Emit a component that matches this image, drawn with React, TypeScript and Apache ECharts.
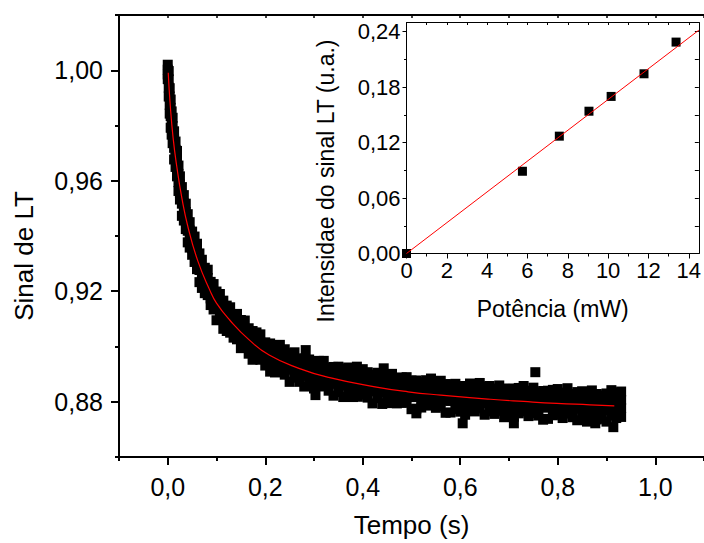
import React, { useEffect, useRef } from 'react';
import * as echarts from 'echarts';

// ---- Main chart: LT signal vs time (four readings per time column) ----
const tempo = [0.000, 0.002, 0.004, 0.006, 0.008, 0.010, 0.013, 0.016, 0.019, 0.022, 0.025, 0.029, 0.033, 0.037, 0.041, 0.045, 0.050, 0.055, 0.060, 0.065, 0.070, 0.076, 0.082, 0.088, 0.094, 0.100, 0.107, 0.114, 0.121, 0.128, 0.135, 0.142, 0.150, 0.158, 0.166, 0.174, 0.182, 0.190, 0.200,
  0.21, 0.22, 0.23, 0.24, 0.25, 0.26, 0.27, 0.28, 0.29, 0.30, 0.31, 0.32, 0.33, 0.34, 0.35, 0.36, 0.37, 0.38, 0.39, 0.40, 0.41, 0.42, 0.43, 0.44, 0.45, 0.46, 0.47, 0.48, 0.49, 0.50, 0.51, 0.52, 0.53, 0.54, 0.55, 0.56, 0.57, 0.58, 0.59, 0.60, 0.61, 0.62, 0.63, 0.64, 0.65, 0.66, 0.67, 0.68, 0.69, 0.70, 0.71, 0.72, 0.73, 0.74, 0.75, 0.76, 0.77, 0.78, 0.79, 0.80, 0.81, 0.82, 0.83, 0.84, 0.85, 0.86, 0.87, 0.88, 0.89, 0.90, 0.91, 0.92, 0.93];
const sinalA = [1.0020, 0.9997, 0.9935, 0.9894, 0.9851, 0.9828, 0.9779, 0.9742, 0.9708, 0.9655, 0.9616, 0.9577, 0.9548, 0.9517, 0.9479, 0.9450, 0.9416, 0.9398, 0.9372, 0.9337, 0.9314, 0.9285, 0.9278, 0.9234, 0.9226, 0.9199, 0.9190, 0.9166, 0.9148, 0.9142, 0.9116, 0.9118, 0.9096, 0.9094, 0.9066, 0.9056, 0.9051, 0.9044, 0.9015,
  0.9011, 0.8998, 0.9006, 0.8990, 0.8976, 0.8979, 0.8956, 0.8957, 0.8953, 0.8940, 0.8948, 0.8948, 0.8924, 0.8926, 0.8927, 0.8919, 0.8924, 0.8909, 0.8902, 0.8918, 0.8907, 0.8898, 0.8905, 0.8894, 0.8887, 0.8901, 0.8878, 0.8888, 0.8889, 0.8877, 0.8877, 0.8871, 0.8878, 0.8884, 0.8862, 0.8876, 0.8864, 0.8863, 0.8865, 0.8856, 0.8857, 0.8866, 0.8849, 0.8868, 0.8855, 0.8857, 0.8848, 0.8859, 0.8848, 0.8841, 0.8848, 0.8850, 0.8857, 0.8840, 0.8851, 0.8834, 0.8839, 0.8840, 0.8843, 0.8846, 0.8833, 0.8849, 0.8828, 0.8835, 0.8838, 0.8832, 0.8841, 0.8828, 0.8823, 0.8830, 0.8842, 0.8833, 0.8837];
const sinalB = [1.0002, 0.9967, 0.9905, 0.9864, 0.9821, 0.9798, 0.9749, 0.9712, 0.9678, 0.9625, 0.9586, 0.9547, 0.9518, 0.9487, 0.9449, 0.9420, 0.9386, 0.9368, 0.9342, 0.9307, 0.9284, 0.9255, 0.9248, 0.9204, 0.9196, 0.9169, 0.9160, 0.9136, 0.9118, 0.9112, 0.9086, 0.9088, 0.9066, 0.9064, 0.9036, 0.9026, 0.9021, 0.9014, 0.8985,
  0.8981, 0.8968, 0.8976, 0.8960, 0.8946, 0.8949, 0.8926, 0.8927, 0.8923, 0.8910, 0.8918, 0.8918, 0.8894, 0.8896, 0.8897, 0.8889, 0.8894, 0.8879, 0.8872, 0.8888, 0.8877, 0.8868, 0.8875, 0.8864, 0.8857, 0.8871, 0.8848, 0.8858, 0.8859, 0.8847, 0.8847, 0.8841, 0.8848, 0.8854, 0.8832, 0.8846, 0.8834, 0.8833, 0.8835, 0.8826, 0.8827, 0.8836, 0.8819, 0.8838, 0.8825, 0.8827, 0.8818, 0.8829, 0.8818, 0.8811, 0.8818, 0.8820, 0.8827, 0.8810, 0.8821, 0.8804, 0.8809, 0.8810, 0.8813, 0.8816, 0.8803, 0.8819, 0.8798, 0.8805, 0.8808, 0.8802, 0.8811, 0.8798, 0.8793, 0.8800, 0.8812, 0.8803, 0.8807];
const sinalC = [0.9985, 0.9937, 0.9875, 0.9834, 0.9791, 0.9768, 0.9719, 0.9682, 0.9648, 0.9595, 0.9556, 0.9517, 0.9488, 0.9457, 0.9419, 0.9390, 0.9356, 0.9338, 0.9312, 0.9277, 0.9254, 0.9225, 0.9218, 0.9174, 0.9166, 0.9139, 0.9130, 0.9106, 0.9088, 0.9082, 0.9056, 0.9058, 0.9036, 0.9034, 0.9006, 0.8996, 0.8991, 0.8984, 0.8955,
  0.8951, 0.8938, 0.8946, 0.8930, 0.8916, 0.8919, 0.8896, 0.8897, 0.8893, 0.8880, 0.8888, 0.8888, 0.8864, 0.8866, 0.8867, 0.8859, 0.8864, 0.8849, 0.8842, 0.8858, 0.8847, 0.8838, 0.8845, 0.8834, 0.8827, 0.8841, 0.8818, 0.8828, 0.8829, 0.8817, 0.8817, 0.8811, 0.8818, 0.8824, 0.8802, 0.8816, 0.8804, 0.8803, 0.8805, 0.8796, 0.8797, 0.8806, 0.8789, 0.8808, 0.8795, 0.8797, 0.8788, 0.8799, 0.8788, 0.8781, 0.8788, 0.8790, 0.8797, 0.8780, 0.8791, 0.8774, 0.8779, 0.8780, 0.8783, 0.8786, 0.8773, 0.8789, 0.8768, 0.8775, 0.8778, 0.8772, 0.8781, 0.8768, 0.8763, 0.8770, 0.8782, 0.8773, 0.8777];
const sinalD = [0.9968, 0.9905, 0.9843, 0.9792, 0.9767, 0.9736, 0.9677, 0.9650, 0.9616, 0.9563, 0.9532, 0.9473, 0.9456, 0.9425, 0.9377, 0.9358, 0.9332, 0.9306, 0.9280, 0.9233, 0.9212, 0.9193, 0.9186, 0.9150, 0.9134, 0.9095, 0.9098, 0.9064, 0.9056, 0.9050, 0.9032, 0.9026, 0.8994, 0.9002, 0.8974, 0.8952, 0.8959, 0.8952, 0.8931,
  0.8909, 0.8906, 0.8914, 0.8898, 0.8872, 0.8887, 0.8872, 0.8855, 0.8861, 0.8848, 0.8856, 0.8856, 0.8840, 0.8822, 0.8835, 0.8817, 0.8832, 0.8817, 0.8818, 0.8826, 0.8815, 0.8794, 0.8813, 0.8792, 0.8795, 0.8809, 0.8794, 0.8796, 0.8797, 0.8773, 0.8775, 0.8779, 0.8786, 0.8792, 0.8778, 0.8784, 0.8760, 0.8761, 0.8773, 0.8764, 0.8753, 0.8774, 0.8765, 0.8776, 0.8753, 0.8765, 0.8756, 0.8767, 0.8744, 0.8757, 0.8746, 0.8758, 0.8765, 0.8748, 0.8759, 0.8750, 0.8735, 0.8738, 0.8751, 0.8754, 0.8741, 0.8757, 0.8744, 0.8733, 0.8746, 0.8728, 0.8749, 0.8736, 0.8739, 0.8728, 0.8750, 0.8741, 0.8745];
const foraTempo = [0.283, 0.303, 0.388, 0.443, 0.510, 0.605, 0.710, 0.754, 0.877, 0.914];
const foraSinal = [0.8987, 0.8824, 0.8927, 0.8921, 0.8758, 0.8722, 0.8722, 0.8907, 0.8722, 0.8708];

// fitted curve (red)
const ajusteTempo = [0.001, 0.005, 0.011, 0.018, 0.029, 0.042, 0.062, 0.086, 0.100, 0.127, 0.167, 0.208, 0.269, 0.330, 0.425, 0.493, 0.560, 0.662, 0.730, 0.798, 0.866, 0.916];
const ajusteSinal = [0.9991, 0.9876, 0.9755, 0.9658, 0.9537, 0.9429, 0.9308, 0.9205, 0.9157, 0.9096, 0.9024, 0.8969, 0.8921, 0.8888, 0.8854, 0.8836, 0.8824, 0.8809, 0.8801, 0.8794, 0.8789, 0.8785];

// ---- Inset: intensity vs power ----
const potencia = [0, 5.75, 7.58, 9.05, 10.15, 11.78, 13.37];
const intensidade = [0.0, 0.089, 0.127, 0.154, 0.170, 0.1945, 0.2288];
const retaPotencia = [0, 14.5];
const retaIntensidade = [0, 0.2417];

// ---- Ticks ----
const xMaior = [0, 0.2, 0.4, 0.6, 0.8, 1.0];
const xMenor = [-0.1, 0.1, 0.3, 0.5, 0.7, 0.9, 1.1];
const xTopo = [-0.1, 0, 0.1, 0.2, 0.3, 0.4, 0.5, 0.6, 0.7, 0.8, 0.9, 1.0, 1.1];
const yMaior = [0.88, 0.92, 0.96, 1.00];
const yMenor = [0.86, 0.90, 0.94, 0.98, 1.02];
const insetXMaior = [0, 2, 4, 6, 8, 10, 12, 14];
const insetXMenor = [1, 3, 5, 7, 9, 11, 13];
const insetXTopo = [1, 2, 3, 4, 5, 6, 7, 8, 9, 10, 11, 12, 13, 14];
const insetYMaior = [0, 0.06, 0.12, 0.18, 0.24];
const insetYMenor = [0.03, 0.09, 0.15, 0.21];
const insetYDireita = [0.03, 0.06, 0.09, 0.12, 0.15, 0.18, 0.21, 0.24];

const FONT = "'Liberation Sans', Arial, Helvetica, sans-serif";

export default function App() {
  const ref = useRef<HTMLDivElement>(null);
  useEffect(() => {
    if (!ref.current) return;
    const chart = echarts.init(ref.current, null, { renderer: 'svg' });
    const pontos: number[][] = [];
    tempo.forEach((t, i) => {
      pontos.push([t, sinalA[i]], [t, sinalB[i]], [t, sinalC[i]], [t, sinalD[i]]);
    });
    foraTempo.forEach((t, i) => pontos.push([t, foraSinal[i]]));
    const ajuste = ajusteTempo.map((t, i) => [t, ajusteSinal[i]]);
    const inset = potencia.map((p, i) => [p, intensidade[i]]);
    const reta = retaPotencia.map((p, i) => [p, retaIntensidade[i]]);

    const black = '#000';
    const mainLine = { show: true, onZero: false, lineStyle: { color: black, width: 2 } };
    const insetLine = { show: true, onZero: false, lineStyle: { color: black, width: 1 } };
    const hiddenLine = { show: false, onZero: false };
    const noLabel = { show: false };
    const noSplit = { show: false };
    const comma = (d: number) => (v: number) => v.toFixed(d).replace('.', ',');

    chart.setOption({
      animation: false,
      backgroundColor: '#fff',
      grid: [
        { left: 119, top: 15, right: -5, bottom: 86 },
        { left: 406.5, top: 22.5, right: 1.5, bottom: 289.5, show: true, backgroundColor: '#fff', borderWidth: 0 },
      ],
      xAxis: [
        {
          gridIndex: 0, type: 'value', position: 'bottom', min: -0.1, max: 1.1,
          axisLine: mainLine,
          axisTick: { show: true, customValues: xMaior, length: 8, lineStyle: { color: black, width: 2 } },
          axisLabel: { customValues: xMaior, formatter: comma(1), fontSize: 25, fontFamily: FONT, color: black, margin: 17 },
          splitLine: noSplit,
          name: 'Tempo (s)', nameLocation: 'middle', nameGap: 55,
          nameTextStyle: { fontSize: 26, fontFamily: FONT, color: black },
        },
        {
          gridIndex: 0, type: 'value', position: 'bottom', min: -0.1, max: 1.1,
          axisLine: hiddenLine,
          axisTick: { show: true, customValues: xMenor, length: 4, lineStyle: { color: black, width: 2 } },
          axisLabel: noLabel, splitLine: noSplit,
        },
        {
          gridIndex: 0, type: 'value', position: 'top', min: -0.1, max: 1.1,
          axisLine: mainLine,
          axisTick: { show: true, inside: true, customValues: xTopo, length: 3, lineStyle: { color: black, width: 1.5 } },
          axisLabel: noLabel, splitLine: noSplit,
        },
        {
          gridIndex: 1, type: 'value', position: 'bottom', min: 0, max: 14.5,
          axisLine: insetLine,
          axisTick: { show: true, customValues: insetXMaior, length: 5, lineStyle: { color: black, width: 1 } },
          axisLabel: { customValues: insetXMaior, formatter: (v: number) => String(v), fontSize: 22, fontFamily: FONT, color: black, margin: 6 },
          splitLine: noSplit,
          name: 'Potência (mW)', nameLocation: 'middle', nameGap: 44,
          nameTextStyle: { fontSize: 23, fontFamily: FONT, color: black },
        },
        {
          gridIndex: 1, type: 'value', position: 'bottom', min: 0, max: 14.5,
          axisLine: hiddenLine,
          axisTick: { show: true, customValues: insetXMenor, length: 3, lineStyle: { color: black, width: 1 } },
          axisLabel: noLabel, splitLine: noSplit,
        },
        {
          gridIndex: 1, type: 'value', position: 'top', min: 0, max: 14.5,
          axisLine: insetLine,
          axisTick: { show: true, inside: true, customValues: insetXTopo, length: 2.5, lineStyle: { color: black, width: 1 } },
          axisLabel: noLabel, splitLine: noSplit,
        },
      ],
      yAxis: [
        {
          gridIndex: 0, type: 'value', position: 'left', min: 0.86, max: 1.02,
          axisLine: mainLine,
          axisTick: { show: true, customValues: yMaior, length: 8, lineStyle: { color: black, width: 2 } },
          axisLabel: { customValues: yMaior, formatter: comma(2), fontSize: 25, fontFamily: FONT, color: black, margin: 16 },
          splitLine: noSplit,
        },
        {
          gridIndex: 0, type: 'value', position: 'left', min: 0.86, max: 1.02,
          axisLine: hiddenLine,
          axisTick: { show: true, customValues: yMenor, length: 4, lineStyle: { color: black, width: 2 } },
          axisLabel: noLabel, splitLine: noSplit,
        },
        {
          gridIndex: 1, type: 'value', position: 'left', min: 0, max: 0.25,
          axisLine: insetLine,
          axisTick: { show: true, customValues: insetYMaior, length: 4, lineStyle: { color: black, width: 1 } },
          axisLabel: { customValues: insetYMaior, formatter: comma(2), fontSize: 22, fontFamily: FONT, color: black, margin: 6 },
          splitLine: noSplit,
        },
        {
          gridIndex: 1, type: 'value', position: 'left', min: 0, max: 0.25,
          axisLine: hiddenLine,
          axisTick: { show: true, customValues: insetYMenor, length: 2.5, lineStyle: { color: black, width: 1 } },
          axisLabel: noLabel, splitLine: noSplit,
        },
        {
          gridIndex: 1, type: 'value', position: 'right', min: 0, max: 0.25,
          axisLine: insetLine,
          axisTick: { show: true, inside: true, customValues: insetYDireita, length: 4, lineStyle: { color: black, width: 1 } },
          axisLabel: noLabel, splitLine: noSplit,
        },
      ],
      graphic: [
        {
          type: 'text', x: 24, y: 256, rotation: Math.PI / 2, z: 10,
          style: { text: 'Sinal de LT', fontSize: 26, fontFamily: FONT, fill: black, align: 'center', verticalAlign: 'middle', textAlign: 'center', textVerticalAlign: 'middle' },
        },
        {
          type: 'text', x: 326, y: 181, rotation: Math.PI / 2, z: 10,
          style: { text: 'Intensidae do sinal LT (u.a.)', fontSize: 23, fontFamily: FONT, fill: black, align: 'center', verticalAlign: 'middle', textAlign: 'center', textVerticalAlign: 'middle' },
        },
      ],
      series: [
        {
          type: 'scatter', xAxisIndex: 0, yAxisIndex: 0, symbol: 'rect', symbolSize: 10,
          itemStyle: { color: black, opacity: 1, borderWidth: 0 }, data: pontos, z: 2,
        },
        {
          type: 'line', xAxisIndex: 0, yAxisIndex: 0, smooth: true, showSymbol: false, symbol: 'none',
          lineStyle: { color: '#ff0000', width: 1.2 }, data: ajuste, z: 3,
        },
        {
          type: 'scatter', xAxisIndex: 3, yAxisIndex: 2, symbol: 'rect', symbolSize: 9,
          itemStyle: { color: black, opacity: 1, borderWidth: 0 }, data: inset, z: 2,
        },
        {
          type: 'line', xAxisIndex: 3, yAxisIndex: 2, showSymbol: false, symbol: 'none',
          lineStyle: { color: '#ff0000', width: 1 }, data: reta, z: 3,
        },
      ],
    });
    return () => chart.dispose();
  }, []);
  return <div ref={ref} style={{ position: 'absolute', left: 0, top: 0, width: 704, height: 543 }} />;
}
